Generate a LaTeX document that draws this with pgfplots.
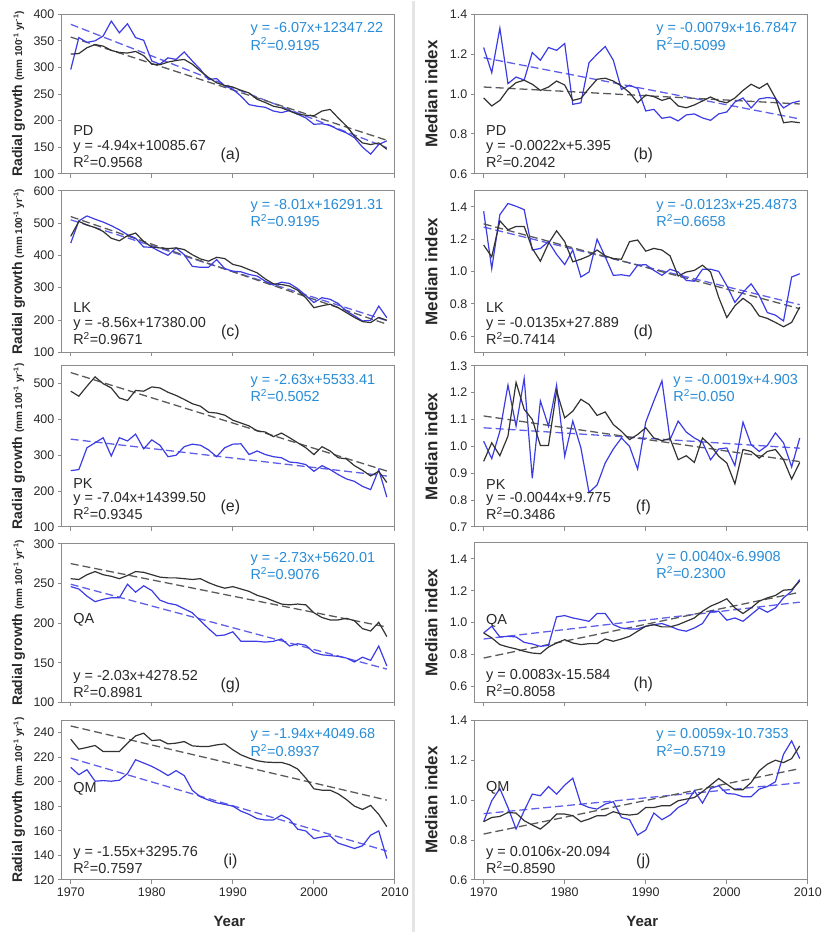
\documentclass[border=0pt]{standalone}
\usepackage{fontspec}
\setmainfont{Liberation Sans}
\usepackage{pgfplots}
\usepackage{pgfplotstable}
\pgfplotsset{compat=1.18}
\definecolor{bline}{RGB}{60,60,228}
\definecolor{bdash}{RGB}{95,95,232}
\definecolor{btxt}{RGB}{40,140,215}
\definecolor{kline}{RGB}{50,50,50}
\definecolor{kdash}{RGB}{90,90,90}
\definecolor{txt}{RGB}{40,40,40}
\definecolor{axgray}{RGB}{140,140,140}

\pgfplotsset{
  /pgf/number format/assume math mode=true,
  /pgf/number format/1000 sep={},
  panel/.style={
    scale only axis, width=334pt, height=160pt, anchor=north west,
    xmin=1968.9, xmax=2010, xtick={1970,1980,1990,2000,2010},
    axis line style={axgray, line width=0.9pt},
    major tick style={axgray, line width=0.9pt},
    major tick length=4pt, tick align=outside, tick pos=left,
    tick label style={font=\fontsize{12.5}{14}\selectfont, text=txt},
    clip mode=individual,
    every axis y label/.style={at={(axis description cs:-0.130,0.5)}, rotate=90, anchor=center},
    every axis x label/.style={at={(axis description cs:0.503,-0.2625)}, anchor=center},
  },
  dec/.style={yticklabel style={/pgf/number format/.cd, fixed, fixed zerofill, precision=1}},
  notx/.style={xticklabels={}},
  radial/.style={ylabel={\fontsize{14}{16}\selectfont\bfseries\color{txt}Radial growth {\fontsize{10}{12}\selectfont(mm 100\textsuperscript{-1} yr\textsuperscript{-1})}}},
  median/.style={ylabel={\fontsize{17}{19}\selectfont\bfseries\color{txt}Median index}},
  year/.style={xlabel={\fontsize{15}{17}\selectfont\bfseries\color{txt}Year}},
  bl/.style={bline, line width=1.2pt, mark=none},
  kl/.style={kline, line width=1.2pt, mark=none},
  bd/.style={bdash, line width=1.3pt, dash pattern=on 8pt off 4pt, mark=none},
  kd/.style={kdash, line width=1.3pt, dash pattern=on 8pt off 4pt, mark=none},
}
\tikzset{
  eq/.style={font=\fontsize{14.5}{16}\selectfont, text=txt, anchor=base west, inner sep=0pt},
  beq/.style={eq, text=btxt},
  tag/.style={font=\fontsize{16}{18}\selectfont, text=txt, anchor=base, inner sep=0pt},
}

\pgfplotstableread{
yr b k
1970 296 325
1971 356 326
1972 347 337
1973 350 343
1974 359 340
1975 387 332
1976 365 328
1977 382 327
1978 356 330
1979 351 322
1980 312 306
1981 306 305
1982 318 310
1983 315 313
1984 329 315
1985 312 306
1986 296 293
1987 277 281
1988 279 271
1989 265 266
1990 259 263
1991 246 257
1992 230 252
1993 227 240
1994 225 234
1995 218 227
1996 215 224
1997 219 218
1998 212 212
1999 205 210
2000 193 209
2001 194 218
2002 191 221
2003 183 205
2004 177 190
2005 168 171
2006 150 158
2007 137 155
2008 155 158
2009 162 146
}\tA
\pgfplotstableread{
yr b k
1970 1.233 0.980
1971 1.107 0.940
1972 1.330 0.968
1973 1.052 1.023
1974 1.085 1.057
1975 1.070 1.069
1976 1.208 1.049
1977 1.169 1.018
1978 1.233 1.035
1979 1.219 1.065
1980 1.253 1.045
1981 0.948 0.968
1982 0.956 0.978
1983 1.157 1.028
1984 1.200 1.074
1985 1.238 1.079
1986 1.169 1.065
1987 1.023 1.040
1988 1.044 1.007
1989 1.028 0.956
1990 0.915 0.995
1991 0.923 0.987
1992 0.878 0.968
1993 0.885 0.980
1994 0.865 0.940
1995 0.895 0.931
1996 0.900 0.945
1997 0.880 0.965
1998 0.868 0.985
1999 0.900 0.965
2000 0.910 0.956
2001 0.960 0.980
2002 0.980 1.018
2003 0.930 1.049
2004 0.975 1.028
2005 0.982 1.053
2006 0.978 0.980
2007 0.930 0.856
2008 0.955 0.861
2009 0.965 0.856
}\tB
\pgfplotstableread{
yr b k
1970 438 459
1971 507 505
1972 522 494
1973 512 486
1974 503 474
1975 492 453
1976 479 445
1977 464 461
1978 453 469
1979 426 443
1980 425 426
1981 412 423
1982 400 421
1983 423 423
1984 402 418
1985 366 402
1986 363 389
1987 363 382
1988 387 394
1989 359 390
1990 351 372
1991 349 366
1992 341 356
1993 336 346
1994 320 327
1995 308 312
1996 317 310
1997 313 305
1998 297 292
1999 276 269
2000 254 238
2001 269 244
2002 264 249
2003 251 238
2004 228 223
2005 213 208
2006 197 195
2007 199 192
2008 243 208
2009 207 199
}\tC
\pgfplotstableread{
yr b k
1970 1.373 1.164
1971 1.018 1.091
1972 1.352 1.314
1973 1.421 1.258
1974 1.404 1.279
1975 1.383 1.279
1976 1.133 1.143
1977 1.143 1.064
1978 1.185 1.174
1979 1.106 1.252
1980 1.043 1.185
1981 1.133 1.060
1982 0.966 1.076
1983 0.997 1.097
1984 1.200 1.133
1985 1.091 1.097
1986 0.976 1.080
1987 0.980 1.076
1988 0.972 1.185
1989 1.039 1.195
1990 1.043 1.126
1991 1.007 1.143
1992 0.976 1.133
1993 1.014 1.097
1994 0.997 0.972
1995 0.945 0.997
1996 0.940 1.007
1997 1.014 1.039
1998 1.014 0.997
1999 1.001 0.840
2000 0.913 0.715
2001 0.809 0.788
2002 0.872 0.834
2003 0.924 0.798
2004 0.851 0.725
2005 0.746 0.710
2006 0.730 0.685
2007 0.694 0.658
2008 0.966 0.685
2009 0.986 0.780
}\tD
\pgfplotstableread{
yr b k
1970 257 479
1971 260 465
1972 321 493
1973 335 519
1974 349 500
1975 298 488
1976 349 460
1977 340 453
1978 359 481
1979 318 479
1980 343 491
1981 328 488
1982 296 476
1983 300 467
1984 324 456
1985 331 444
1986 328 437
1987 315 420
1988 296 418
1989 321 412
1990 331 398
1991 332 390
1992 302 382
1993 312 368
1994 302 365
1995 296 352
1996 293 362
1997 281 349
1998 279 335
1999 274 321
2000 255 302
2001 271 324
2002 260 312
2003 246 293
2004 234 290
2005 227 271
2006 213 258
2007 204 242
2008 260 255
2009 183 224
}\tE
\pgfplotstableread{
yr b k
1970 1.019 0.944
1971 0.954 1.013
1972 1.056 0.965
1973 1.228 1.038
1974 1.075 1.238
1975 1.253 1.138
1976 0.881 1.100
1977 1.169 1.003
1978 1.075 1.003
1979 1.228 1.206
1980 0.963 1.106
1981 1.094 1.131
1982 0.994 1.175
1983 0.828 1.156
1984 0.856 1.115
1985 0.938 1.128
1986 0.990 1.081
1987 1.031 1.056
1988 1.000 1.025
1989 0.915 1.044
1990 1.090 1.069
1991 1.169 1.031
1992 1.244 1.021
1993 1.025 1.029
1994 1.094 0.950
1995 1.053 0.965
1996 1.031 0.940
1997 1.015 1.031
1998 0.950 1.003
1999 0.990 0.963
2000 0.994 0.938
2001 0.928 0.860
2002 1.090 0.988
2003 1.006 0.981
2004 0.981 0.956
2005 1.003 0.981
2006 1.050 0.988
2007 1.013 0.950
2008 0.923 0.878
2009 1.031 0.940
}\tF
\pgfplotstableread{
yr b k
1970 246 256
1971 243 255
1972 234 261
1973 227 265
1974 230 261
1975 232 259
1976 232 256
1977 249 260
1978 239 265
1979 247 264
1980 241 261
1981 229 258
1982 225 257
1983 223 257
1984 218 256
1985 213 255
1986 203 256
1987 193 251
1988 184 247
1989 185 244
1990 189 246
1991 177 243
1992 177 240
1993 177 235
1994 176 232
1995 177 228
1996 180 224
1997 171 223
1998 174 224
1999 172 223
2000 163 213
2001 160 207
2002 159 204
2003 158 204
2004 156 206
2005 151 203
2006 157 193
2007 153 190
2008 171 201
2009 146 183
}\tG
\pgfplotstableread{
yr b k
1970 0.935 0.935
1971 0.977 0.904
1972 0.910 0.862
1973 0.914 0.847
1974 0.910 0.835
1975 0.876 0.820
1976 0.866 0.809
1977 0.851 0.805
1978 0.858 0.847
1979 1.036 0.872
1980 1.044 0.893
1981 1.029 0.872
1982 1.019 0.862
1983 1.008 0.868
1984 1.057 0.868
1985 1.057 0.897
1986 0.987 0.883
1987 0.966 0.897
1988 0.960 0.914
1989 0.960 0.946
1990 0.977 0.977
1991 0.987 0.987
1992 0.994 0.973
1993 0.977 0.973
1994 0.956 0.987
1995 0.946 1.008
1996 0.966 1.029
1997 0.994 1.071
1998 1.071 1.103
1999 1.071 1.124
2000 1.015 1.149
2001 1.029 1.092
2002 1.008 1.057
2003 1.050 1.092
2004 1.092 1.134
2005 1.065 1.155
2006 1.092 1.170
2007 1.155 1.203
2008 1.197 1.207
2009 1.270 1.260
}\tH
\pgfplotstableread{
yr b k
1970 211.7 234.6
1971 205.7 226.5
1972 209.8 227.9
1973 200.4 229.5
1974 200.9 224.6
1975 200.4 224.6
1976 201.2 224.6
1977 206.6 231.4
1978 217.9 237.3
1979 215.2 239.5
1980 212.5 233.5
1981 209.0 234.1
1982 205.0 230.8
1983 209.0 231.4
1984 205.0 232.7
1985 193.0 229.2
1986 187.7 228.7
1987 185.0 228.7
1988 182.8 230.0
1989 181.5 230.8
1990 180.1 226.0
1991 176.0 221.9
1992 173.4 219.2
1993 169.9 217.1
1994 168.8 216.0
1995 168.8 215.7
1996 172.8 215.7
1997 169.3 213.8
1998 161.3 210.3
1999 159.9 203.0
2000 153.7 194.2
2001 155.0 193.1
2002 155.9 193.1
2003 149.9 190.1
2004 147.8 185.5
2005 145.6 180.1
2006 147.8 177.4
2007 156.4 180.7
2008 159.9 173.4
2009 137.5 163.4
}\tI
\pgfplotstableread{
yr b k
1970 0.892 0.892
1971 0.997 0.913
1972 1.058 0.918
1973 0.963 0.938
1974 0.855 0.935
1975 0.947 0.897
1976 1.030 0.875
1977 1.022 0.855
1978 1.068 0.888
1979 1.030 0.930
1980 1.075 0.930
1981 1.110 0.922
1982 0.980 0.892
1983 0.963 0.905
1984 0.955 0.922
1985 0.980 0.922
1986 0.992 0.942
1987 0.913 0.930
1988 0.902 0.925
1989 0.825 0.930
1990 0.850 0.963
1991 0.935 0.963
1992 0.902 0.972
1993 0.925 0.972
1994 0.963 0.997
1995 0.985 1.005
1996 1.047 1.013
1997 0.985 1.042
1998 1.058 1.075
1999 1.072 1.108
2000 1.033 1.080
2001 1.030 1.052
2002 1.017 1.052
2003 1.017 1.088
2004 1.055 1.147
2005 1.068 1.180
2006 1.092 1.200
2007 1.230 1.188
2008 1.297 1.208
2009 1.208 1.272
}\tJ

% annotation macro: #1 blue x offset, #2 blue eq, #3 blue R2, #4 name, #5 name offset, #6 black eq, #7 black R2, #8 tag
\newcommand{\annot}[8]{%
  \node[beq, xshift=#1pt, yshift=-18.5pt] at (axis description cs:0,1) {#2};
  \node[beq, xshift=#1pt, yshift=-36pt] at (axis description cs:0,1) {#3};
  \node[eq, xshift=11.3pt, yshift=-#5pt] at (axis description cs:0,1) {#4};
  \node[eq, xshift=11.3pt, yshift=-137pt] at (axis description cs:0,1) {#6};
  \node[eq, xshift=11.3pt, yshift=-154pt] at (axis description cs:0,1) {#7};
  \node[tag, xshift=169pt, yshift=-146pt] at (axis description cs:0,1) {#8};
}

\begin{document}
\begin{tikzpicture}
\path (0pt,0pt) rectangle (826pt,-933pt);
\draw[black!10, line width=2.5pt] (414.5pt,0pt) -- (414.5pt,-933pt);

% (a)
\begin{axis}[panel, notx, radial, at={(62pt,-13pt)}, ymin=100, ymax=400, ytick={100,150,...,400}]
\addplot[bd] coordinates {(1970,381) (2009,149)};
\addplot[kd] coordinates {(1970,357) (2009,163)};
\addplot[bl] table[x=yr,y=b] {\tA};
\addplot[kl] table[x=yr,y=k] {\tA};
\annot{189}{y = -6.07x+12347.22}{R\textsuperscript{2}=0.9195}{PD}{122}{y = -4.94x+10085.67}{R\textsuperscript{2}=0.9568}{(a)}
\end{axis}
% (b)
\begin{axis}[panel, notx, dec, median, at={(476pt,-13pt)}, ymin=0.6, ymax=1.4, ytick={0.6,0.8,1.0,1.2,1.4}]
\addplot[bd] coordinates {(1970,1.182) (2009,0.875)};
\addplot[kd] coordinates {(1970,1.035) (2009,0.950)};
\addplot[bl] table[x=yr,y=b] {\tB};
\addplot[kl] table[x=yr,y=k] {\tB};
\annot{182}{y = -0.0079x+16.7847}{R\textsuperscript{2}=0.5099}{PD}{122}{y = -0.0022x+5.395}{R\textsuperscript{2}=0.2042}{(b)}
\end{axis}
% (c)
\begin{axis}[panel, notx, radial, at={(62pt,-190pt)}, height=162pt, ymin=100, ymax=600, ytick={100,200,...,600}]
\addplot[bd] coordinates {(1970,510) (2009,198)};
\addplot[kd] coordinates {(1970,520) (2009,187)};
\addplot[bl] table[x=yr,y=b] {\tC};
\addplot[kl] table[x=yr,y=k] {\tC};
\annot{189}{y = -8.01x+16291.31}{R\textsuperscript{2}=0.9195}{LK}{122}{y = -8.56x+17380.00}{R\textsuperscript{2}=0.9671}{(c)}
\end{axis}
% (d)
\begin{axis}[panel, notx, dec, median, at={(476pt,-190pt)}, height=162pt, ymin=0.5, ymax=1.5, ytick={0.6,0.8,1.0,1.2,1.4}]
\addplot[bd] coordinates {(1970,1.275) (2009,0.795)};
\addplot[kd] coordinates {(1970,1.295) (2009,0.770)};
\addplot[bl] table[x=yr,y=b] {\tD};
\addplot[kl] table[x=yr,y=k] {\tD};
\annot{182}{y = -0.0123x+25.4873}{R\textsuperscript{2}=0.6658}{LK}{122}{y = -0.0135x+27.889}{R\textsuperscript{2}=0.7414}{(d)}
\end{axis}
% (e)
\begin{axis}[panel, notx, radial, at={(62pt,-365.5pt)}, height=161.5pt, ymin=100, ymax=550, ytick={100,200,...,500}]
\addplot[bd] coordinates {(1970,345) (2009,242)};
\addplot[kd] coordinates {(1970,531) (2009,256)};
\addplot[bl] table[x=yr,y=b] {\tE};
\addplot[kl] table[x=yr,y=k] {\tE};
\annot{189}{y = -2.63x+5533.41}{R\textsuperscript{2}=0.5052}{PK}{123}{y = -7.04x+14399.50}{R\textsuperscript{2}=0.9345}{(e)}
\end{axis}
% (f)
\begin{axis}[panel, notx, dec, median, at={(476pt,-365.5pt)}, height=161.5pt, ymin=0.7, ymax=1.3, ytick={0.7,0.8,0.9,1.0,1.1,1.2,1.3}]
\addplot[bd] coordinates {(1970,1.069) (2009,0.993)};
\addplot[kd] coordinates {(1970,1.113) (2009,0.943)};
\addplot[bl] table[x=yr,y=b] {\tF};
\addplot[kl] table[x=yr,y=k] {\tF};
\annot{199}{y = -0.0019x+4.903}{R\textsuperscript{2}=0.050}{PK}{124}{y = -0.0044x+9.775}{R\textsuperscript{2}=0.3486}{(f)}
\end{axis}
% (g)
\begin{axis}[panel, notx, radial, at={(62pt,-544pt)}, height=159pt, ymin=100, ymax=300, ytick={100,150,...,300}]
\addplot[bd] coordinates {(1970,249) (2009,142)};
\addplot[kd] coordinates {(1970,275) (2009,195)};
\addplot[bl] table[x=yr,y=b] {\tG};
\addplot[kl] table[x=yr,y=k] {\tG};
\annot{189}{y = -2.73x+5620.01}{R\textsuperscript{2}=0.9076}{QA}{80}{y = -2.03x+4278.52}{R\textsuperscript{2}=0.8981}{(g)}
\end{axis}
% (h)
\begin{axis}[panel, notx, dec, median, at={(476pt,-543pt)}, ymin=0.5, ymax=1.5, ytick={0.6,0.8,1.0,1.2,1.4}]
\addplot[bd] coordinates {(1970,0.897) (2009,1.128)};
\addplot[kd] coordinates {(1970,0.778) (2009,1.190)};
\addplot[bl] table[x=yr,y=b] {\tH};
\addplot[kl] table[x=yr,y=k] {\tH};
\annot{182}{y = 0.0040x-6.9908}{R\textsuperscript{2}=0.2300}{QA}{82}{y = 0.0083x-15.584}{R\textsuperscript{2}=0.8058}{(h)}
\end{axis}
% (i)
\begin{axis}[panel, radial, year, at={(62pt,-721pt)}, ymin=120, ymax=250, ytick={120,140,...,240}]
\addplot[bd] coordinates {(1970,219.2) (2009,143.5)};
\addplot[kd] coordinates {(1970,245.4) (2009,185)};
\addplot[bl] table[x=yr,y=b] {\tI};
\addplot[kl] table[x=yr,y=k] {\tI};
\annot{189}{y = -1.94x+4049.68}{R\textsuperscript{2}=0.8937}{QM}{72}{y = -1.55x+3295.76}{R\textsuperscript{2}=0.7597}{(i)}
\end{axis}
% (j)
\begin{axis}[panel, dec, median, year, at={(476pt,-721pt)}, ymin=0.6, ymax=1.4, ytick={0.6,0.8,1.0,1.2,1.4}]
\addplot[bd] coordinates {(1970,0.932) (2009,1.087)};
\addplot[kd] coordinates {(1970,0.830) (2009,1.158)};
\addplot[bl] table[x=yr,y=b] {\tJ};
\addplot[kl] table[x=yr,y=k] {\tJ};
\annot{182}{y = 0.0059x-10.7353}{R\textsuperscript{2}=0.5719}{QM}{71}{y = 0.0106x-20.094}{R\textsuperscript{2}=0.8590}{(j)}
\end{axis}
\end{tikzpicture}
\end{document}
